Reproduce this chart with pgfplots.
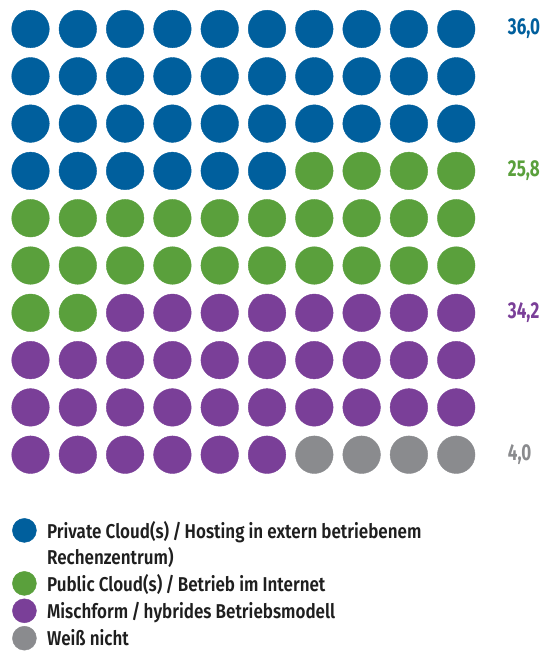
\documentclass[border=0pt]{standalone}
\usepackage{fontspec}
\setmainfont{Fira Sans SemiBold}[FakeStretch=0.85]
\newfontfamily\numfont{Fira Sans}[FakeStretch=0.74]
\usepackage{pgfplots}
\pgfplotsset{compat=1.18}

\definecolor{cblue}{RGB}{0,95,157}
\definecolor{cgreen}{RGB}{90,160,60}
\definecolor{cpurple}{RGB}{122,63,152}
\definecolor{cgray}{RGB}{138,139,142}

\pgfplotsset{dot/.style={only marks, mark=*, mark size=18.8pt,
    color=#1, mark options={draw=#1, fill=#1}}}

\begin{document}
\begin{tikzpicture}
\begin{axis}[
    scale only axis,
    x=47.3pt, y=47.3pt,
    y dir=reverse,
    xmin=-0.645, xmax=10.962,
    ymin=-0.613, ymax=13.192,
    hide axis,
    clip=false,
    legend image code/.code={\fill (12pt,0pt) circle (12pt);},
    legend style={
        at={(axis cs:-0.391,10.338)}, anchor=north west,
        draw=none, fill=none, inner sep=0pt,
        column sep=8.5pt, row sep=3pt,
        font=\fontsize{20}{23}\selectfont,
        text=black!88,
        cells={anchor=west},
    },
]
% blue: private cloud, 36
\addplot[dot=cblue] coordinates {
 (0,0) (1,0) (2,0) (3,0) (4,0) (5,0) (6,0) (7,0) (8,0) (9,0)
 (0,1) (1,1) (2,1) (3,1) (4,1) (5,1) (6,1) (7,1) (8,1) (9,1)
 (0,2) (1,2) (2,2) (3,2) (4,2) (5,2) (6,2) (7,2) (8,2) (9,2)
 (0,3) (1,3) (2,3) (3,3) (4,3) (5,3)
};
\addlegendentry{Private Cloud(s)\,/\,Hosting in extern betriebenem}
\addlegendimage{empty legend}
\addlegendentry{Rechenzentrum)}
% green: public cloud, 26
\addplot[dot=cgreen] coordinates {
 (6,3) (7,3) (8,3) (9,3)
 (0,4) (1,4) (2,4) (3,4) (4,4) (5,4) (6,4) (7,4) (8,4) (9,4)
 (0,5) (1,5) (2,5) (3,5) (4,5) (5,5) (6,5) (7,5) (8,5) (9,5)
 (0,6) (1,6)
};
\addlegendentry{Public Cloud(s)\,/\,Betrieb im Internet}
% purple: hybrid, 34
\addplot[dot=cpurple] coordinates {
 (2,6) (3,6) (4,6) (5,6) (6,6) (7,6) (8,6) (9,6)
 (0,7) (1,7) (2,7) (3,7) (4,7) (5,7) (6,7) (7,7) (8,7) (9,7)
 (0,8) (1,8) (2,8) (3,8) (4,8) (5,8) (6,8) (7,8) (8,8) (9,8)
 (0,9) (1,9) (2,9) (3,9) (4,9) (5,9)
};
\addlegendentry{Mischform\,/\,hybrides Betriebsmodell}
% gray: don't know, 4
\addplot[dot=cgray] coordinates {
 (6,9) (7,9) (8,9) (9,9)
};
\addlegendentry{Weiß nicht}

\path (rel axis cs:0,0) rectangle (rel axis cs:1,1);

\begin{scope}[every node/.style={anchor=west, inner sep=0pt,
    font=\numfont\bfseries\fontsize{23}{25}\selectfont}]
\node[text=cblue]   at (axis cs:10.09,0) {36,0};
\node[text=cgreen]  at (axis cs:10.09,3) {25,8};
\node[text=cpurple] at (axis cs:10.09,6) {34,2};
\node[text=cgray]   at (axis cs:10.09,9) {4,0};
\end{scope}
\end{axis}
\end{tikzpicture}
\end{document}
